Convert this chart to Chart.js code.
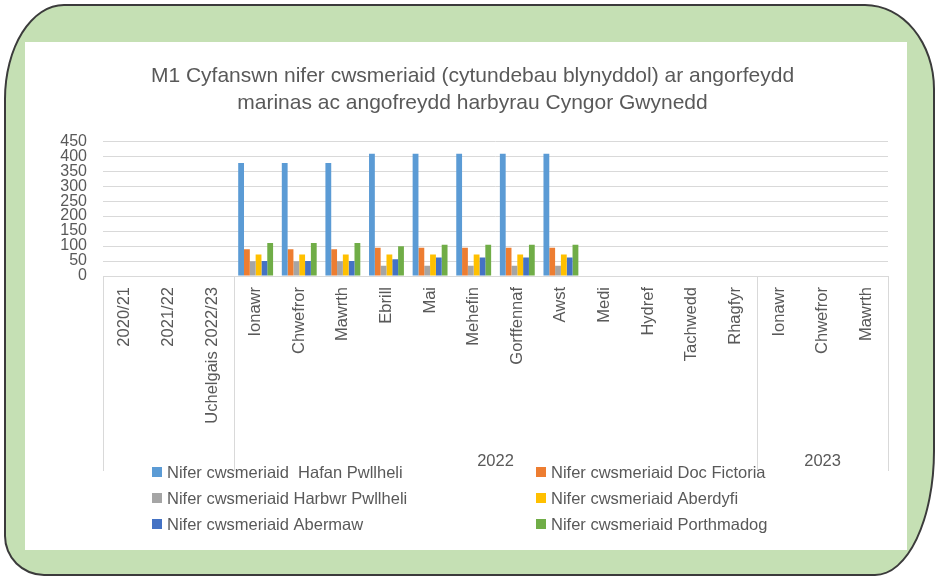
<!DOCTYPE html>
<html><head><meta charset="utf-8">
<script src="https://cdn.jsdelivr.net/npm/chart.js@4/dist/chart.umd.min.js"></script>
<style>
html,body{margin:0;padding:0;width:937px;height:578px;overflow:hidden;background:#fff;}
#frame{position:absolute;left:4px;top:4px;width:927px;height:568px;background:#C5E0B4;border:2px solid #3b3b3b;border-radius:60px 70px 60px 40px / 95px 85px 125px 40px;}
#panel{position:absolute;left:25px;top:42px;width:882px;height:508px;background:#fff;}
canvas{position:absolute;left:0;top:0;}
</style></head><body>
<div id="frame"></div><div id="panel"></div>
<canvas id="c" width="937" height="578"></canvas>
<script>
const categories = ['2020/21','2021/22','Uchelgais 2022/23','Ionawr','Chwefror','Mawrth','Ebrill','Mai','Mehefin','Gorffennaf','Awst','Medi','Hydref','Tachwedd','Rhagfyr','Ionawr','Chwefror','Mawrth'];
const groupLabels = ['', '2022', '2023'];
const groupStarts = [0, 3, 15];
const groupEnds = [2, 14, 17];
const yTicks = [0,50,100,150,200,250,300,350,400,450];

const seriesNames = ['Nifer cwsmeriaid  Hafan Pwllheli','Nifer cwsmeriaid Doc Fictoria','Nifer cwsmeriaid Harbwr Pwllheli','Nifer cwsmeriaid Aberdyfi','Nifer cwsmeriaid Abermaw','Nifer cwsmeriaid Porthmadog'];
const seriesColors = ['#5B9BD5','#ED7D31','#A5A5A5','#FFC000','#4472C4','#70AD47'];

const hafanPwllheli = [null,null,null,377,377,377,408,408,408,408,408,null,null,null,null,null,null,null];
const docFictoria   = [null,null,null,89,89,89,94,94,94,94,94,null,null,null,null,null,null,null];
const harbwrPwllheli= [null,null,null,49,49,49,34,34,34,34,34,null,null,null,null,null,null,null];
const aberdyfi      = [null,null,null,72,72,72,72,72,72,72,72,null,null,null,null,null,null,null];
const abermaw       = [null,null,null,50,50,50,56,62,62,62,62,null,null,null,null,null,null,null];
const porthmadog    = [null,null,null,110,110,110,99,104,104,104,104,null,null,null,null,null,null,null];
const seriesValues = [hafanPwllheli, docFictoria, harbwrPwllheli, aberdyfi, abermaw, porthmadog];

const FONT = '"Liberation Sans", Arial, sans-serif';
const TXT = '#595959';

const groupPlugin = {
  id: 'groups',
  afterDraw(chart) {
    const {ctx, chartArea: a, scales: {x}} = chart;
    const bottom = x.bottom;
    const boundary = i => {
      if (i <= 0) return a.left;
      if (i >= categories.length) return a.right;
      return (x.getPixelForValue(i - 1) + x.getPixelForValue(i)) / 2;
    };
    ctx.save();
    ctx.strokeStyle = '#d9d9d9';
    ctx.lineWidth = 1;
    const edges = new Set();
    groupStarts.forEach(s => edges.add(s));
    edges.add(categories.length);
    edges.forEach(i => {
      const px = Math.round(boundary(i)) + 0.5;
      ctx.beginPath(); ctx.moveTo(px, a.bottom); ctx.lineTo(px, bottom); ctx.stroke();
    });
    ctx.fillStyle = TXT;
    ctx.font = '16.5px ' + FONT;
    ctx.textAlign = 'center';
    ctx.textBaseline = 'middle';
    groupLabels.forEach((g, k) => {
      if (!g) return;
      const cx = (boundary(groupStarts[k]) + boundary(groupEnds[k] + 1)) / 2;
      ctx.fillText(g, cx, bottom - 10);
    });
    ctx.restore();
  }
};

const legendPlugin = {
  id: 'gridLegend',
  afterDraw(chart, args, opts) {
    const {ctx} = chart;
    ctx.save();
    ctx.font = '16.5px ' + FONT;
    ctx.textBaseline = 'middle';
    ctx.textAlign = 'left';
    chart.data.datasets.forEach((ds, i) => {
      const col = i % 2, row = Math.floor(i / 2);
      const bx = opts.cols[col], by = opts.top + row * opts.rowGap;
      ctx.fillStyle = ds.backgroundColor;
      ctx.fillRect(bx, by - 5, 10, 10);
      ctx.fillStyle = TXT;
      ctx.fillText(ds.label, bx + 15, by + 1);
    });
    ctx.restore();
  }
};

new Chart(document.getElementById('c'), {
  type: 'bar',
  data: {
    labels: categories,
    datasets: seriesNames.map((n, i) => ({
      label: n, data: seriesValues[i], backgroundColor: seriesColors[i],
      categoryPercentage: 0.8, barPercentage: 1.0, borderWidth: 0
    }))
  },
  plugins: [groupPlugin, legendPlugin],
  options: {
    responsive: false,
    animation: false,
    layout: {padding: {left: 57, right: 49, top: 0, bottom: 107}},
    plugins: {
      legend: {display: false},
      tooltip: {enabled: false},
      title: {
        display: true,
        text: ['M1 Cyfanswn nifer cwsmeriaid (cytundebau blynyddol) ar angorfeydd', 'marinas ac angofreydd harbyrau Cyngor Gwynedd'],
        color: TXT,
        font: {family: FONT, size: 21, weight: 'normal', lineHeight: 1.29},
        padding: {top: 63, bottom: 24}
      },
      gridLegend: {cols: [152, 536], top: 472, rowGap: 26}
    },
    scales: {
      x: {
        grid: {display: false, drawTicks: false},
        border: {display: true, color: '#d9d9d9'},
        ticks: {
          autoSkip: false, minRotation: 90, maxRotation: 90, padding: 11,
          color: TXT, font: {family: FONT, size: 16.5}
        },
        afterFit(s) { s.height = 195; }
      },
      y: {
        min: 0, max: 450,
        afterBuildTicks(s) { s.ticks = yTicks.map(v => ({value: v})); },
        grid: {color: '#d9d9d9', drawTicks: false},
        border: {display: false},
        ticks: {autoSkip: false, color: TXT, padding: 16, font: {family: FONT, size: 16}},
        afterFit(s) { s.width = 46; }
      }
    }
  }
});
</script>
</body></html>
